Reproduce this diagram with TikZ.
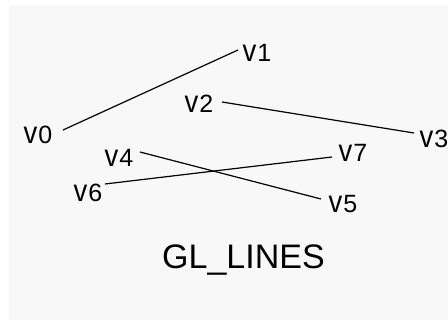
\documentclass[tikz,border=0pt]{standalone}
\usepackage{fontspec}
\usepackage{graphicx}
\setmainfont{Liberation Sans}
\definecolor{panel}{RGB}{248,248,248}
% vertex name: a slightly enlarged "v" followed by its index
\newcommand{\vname}[1]{\scalebox{1.1}[1.24]{v}\kern1pt#1}
\begin{document}
\begin{tikzpicture}[x=1pt,y=-1pt,
  edge/.style={line width=1.2pt, black},
  vlabel/.style={anchor=base, inner sep=0pt, font=\fontsize{25}{25}\selectfont},
  caption/.style={anchor=base, inner sep=0pt, font=\fontsize{34}{34}\selectfont}]
\useasboundingbox (0,0) rectangle (448,321);
\fill[white] (0,0) rectangle (448,321);
\fill[panel] (9,5) rectangle (448,320);

% line end points
\coordinate (p0) at (63,130);
\coordinate (p1) at (238,50);
\coordinate (p2) at (222,102);
\coordinate (p3) at (414,133);
\coordinate (p4) at (140,152);
\coordinate (p5) at (321,199);
\coordinate (p6) at (105,184);
\coordinate (p7) at (332,157);

% vertex labels
\node[vlabel] (v0) at (38,143) {\vname{0}};
\node[vlabel] (v1) at (257,62) {\vname{1}};
\node[vlabel] (v2) at (199,113) {\vname{2}};
\node[vlabel] (v3) at (434,148) {\vname{3}};
\node[vlabel] (v4) at (119,167) {\vname{4}};
\node[vlabel] (v5) at (343,213) {\vname{5}};
\node[vlabel] (v6) at (88,202) {\vname{6}};
\node[vlabel] (v7) at (353,162) {\vname{7}};

% segments
\draw[edge] (p0) -- (p1);
\draw[edge] (p2) -- (p3);
\draw[edge] (p4) -- (p5);
\draw[edge] (p6) -- (p7);

\node[caption] (title) at (243.5,268) {GL\_LINES};
\end{tikzpicture}
\end{document}
